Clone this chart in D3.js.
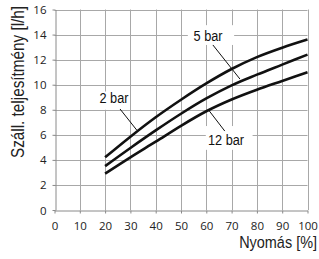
<!DOCTYPE html>
<html><head><meta charset="utf-8">
<script src="https://cdn.jsdelivr.net/npm/d3@7"></script>
<style>
html,body{margin:0;padding:0;background:#fff;}
svg{display:block;}
</style></head>
<body>
<script>
// ---- data ----
const pressure = [20, 30, 40, 50, 60, 70, 80, 90, 100];
const bar2  = [4.2, 5.85, 7.4, 8.8, 10.1, 11.25, 12.2, 12.95, 13.6];
const bar5  = [3.5, 4.95, 6.35, 7.68, 8.9, 9.95, 10.8, 11.6, 12.4];
const bar12 = [2.9, 4.2, 5.45, 6.72, 7.88, 8.82, 9.6, 10.3, 11.0];
const seriesNames = ["2 bar", "5 bar", "12 bar"];
const xTicks = [0, 10, 20, 30, 40, 50, 60, 70, 80, 90, 100];
const yTicks = [0, 2, 4, 6, 8, 10, 12, 14, 16];
const xTitle = "Nyomás [%]";
const yTitle = "Száll. teljesítmény [l/h]";

const W = 319, H = 259;
const svg = d3.select("body").append("svg").attr("width", W).attr("height", H);

const x = d3.scaleLinear().domain([0, 100]).range([54.5, 307.5]);
const y = d3.scaleLinear().domain([0, 16]).range([210, 9.5]);

const narrow = '"Liberation Sans", Arial, sans-serif';
const squeeze = 0.85;
const tickFont = '"Open Sans", sans-serif';

// grid
const grid = svg.append("g");
grid.selectAll("line.v").data(xTicks.slice(1)).join("line")
  .attr("x1", d => Math.round(x(d)) + 0.5).attr("x2", d => Math.round(x(d)) + 0.5)
  .attr("y1", y(16)).attr("y2", y(0))
  .attr("stroke", "#a8a8a8").attr("stroke-width", 1);
grid.selectAll("line.h").data(yTicks.slice(1)).join("line")
  .attr("y1", d => Math.round(y(d)) + 0.5).attr("y2", d => Math.round(y(d)) + 0.5)
  .attr("x1", x(0)).attr("x2", x(100))
  .attr("stroke", "#a8a8a8").attr("stroke-width", 1);

// axes
const xAxis = svg.append("g").attr("transform", `translate(0,${Math.round(y(0)) + 0.5})`)
  .call(d3.axisBottom(x).tickValues(xTicks).tickSize(3).tickPadding(6).tickSizeOuter(0));
const yAxis = svg.append("g").attr("transform", `translate(${Math.round(x(0)) + 0.5},0)`)
  .call(d3.axisLeft(y).tickValues(yTicks).tickSize(3).tickPadding(6).tickSizeOuter(0));
[xAxis, yAxis].forEach(a => {
  a.select(".domain").attr("stroke", "#8a8a8a");
  a.selectAll(".tick line").attr("stroke", "#8a8a8a");
  a.selectAll(".tick text").attr("fill", "#222").style("font-family", tickFont).style("font-size", "11.5px");
});
xAxis.selectAll(".tick text").attr("dy", "0.9em");
yAxis.selectAll(".tick text").attr("dy", "0.35em");

// label boxes (in data coordinates)
const labels = [
  {name: seriesNames[0], tx: 23.5, ty: 8.54, box: [16, 27.5, 9.45, 8.0], lead: [[25.9, 8.06], [32.5, 6.38]]},
  {name: seriesNames[1], tx: 60.7, ty: 13.5, box: [52.7, 71.0, 14.75, 13.17], lead: [[62.6, 13.17], [73.3, 10.45]]},
  {name: seriesNames[2], tx: 67.8, ty: 5.19, box: [59.8, 78.3, 6.7, 4.8], lead: [[60.9, 7.98], [67.3, 6.3]]}
];
svg.append("g").selectAll("rect").data(labels).join("rect")
  .attr("x", d => x(d.box[0])).attr("width", d => x(d.box[1]) - x(d.box[0]))
  .attr("y", d => y(d.box[2])).attr("height", d => y(d.box[3]) - y(d.box[2]))
  .attr("fill", "#fff");
svg.append("g").selectAll("line").data(labels).join("line")
  .attr("x1", d => x(d.lead[0][0])).attr("y1", d => y(d.lead[0][1]))
  .attr("x2", d => x(d.lead[1][0])).attr("y2", d => y(d.lead[1][1]))
  .attr("stroke", "#111").attr("stroke-width", 1);

// curves
const series = [bar2, bar5, bar12];
const line = d3.line().x((d, i) => x(pressure[i])).y(d => y(d)).curve(d3.curveMonotoneX);
svg.append("g").selectAll("path").data(series).join("path")
  .attr("d", d => line(d)).attr("fill", "none")
  .attr("stroke", "#111").attr("stroke-width", 2.6);

// label text
svg.append("g").selectAll("text").data(labels).join("text")
  .attr("transform", d => `translate(${x(d.tx)},${y(d.ty)}) scale(${squeeze},1)`)
  .attr("text-anchor", "middle")
  .style("font-family", narrow).style("font-size", "15px").attr("fill", "#111")
  .text(d => d.name);

// axis titles
svg.append("text").attr("transform", `translate(317,248) scale(${squeeze},1)`).attr("text-anchor", "end")
  .style("font-family", narrow).style("font-size", "17px").attr("fill", "#222")
  .text(xTitle);
svg.append("text").attr("transform", `translate(24,82) rotate(-90) scale(${squeeze},1)`).attr("text-anchor", "middle")
  .style("font-family", narrow).style("font-size", "18px").attr("fill", "#222")
  .text(yTitle);
</script>
</body></html>
